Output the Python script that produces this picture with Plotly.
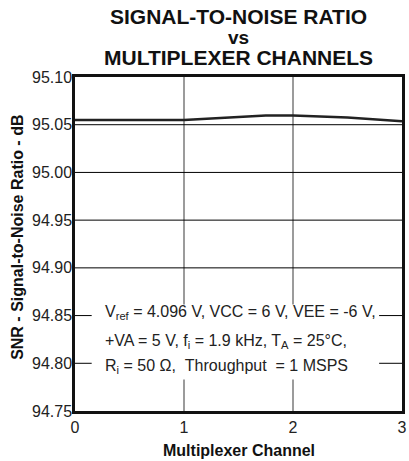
import plotly.graph_objects as go

channel = [0, 1, 1.75, 2, 2.5, 3]
snr_db = [95.055, 95.055, 95.0597, 95.0597, 95.0575, 95.0535]

x_ticks = [0, 1, 2, 3]
y_ticks = [94.75, 94.80, 94.85, 94.90, 94.95, 95.00, 95.05, 95.10]
y_tick_text = ["94.75", "94.80", "94.85", "94.90", "94.95", "95.00", "95.05", "95.10"]

title_lines = ["SIGNAL-TO-NOISE RATIO", "vs", "MULTIPLEXER CHANNELS"]
title_y = [1.181, 1.117, 1.0584]

SUB = "<sub style='font-size:85%'>"
cond_lines = [
    "V" + SUB + "ref</sub> = 4.096 V, VCC = 6 V, VEE = -6 V,",
    "+VA = 5 V, f" + SUB + "i</sub> = 1.9 kHz, T" + SUB + "A</sub> = 25°C,",
    "R" + SUB + "i</sub> = 50 Ω,  Throughput  = 1 MSPS",
]
cond_y = [94.853, 94.8227, 94.7965]

x_title = "Multiplexer Channel"
y_title = "SNR - Signal-to-Noise Ratio - dB"

FONT = "Liberation Sans, Arial, sans-serif"

fig = go.Figure()
fig.add_trace(go.Scatter(x=channel, y=snr_db, mode="lines",
                         line=dict(color="#222222", width=2.5), showlegend=False))

# grid lines
for xv in [1, 2]:
    fig.add_shape(type="line", x0=xv, x1=xv, y0=94.75, y1=95.10, xref="x", yref="y",
                  line=dict(color="#7a7a7a", width=1.5), layer="below")
for yv in [94.80, 94.85, 94.90, 94.95, 95.00, 95.05]:
    fig.add_shape(type="line", x0=0, x1=3, y0=yv, y1=yv, xref="x", yref="y",
                  line=dict(color="#000000", width=1), layer="below")

# white box behind conditions text
fig.add_shape(type="rect", x0=0.153, x1=2.79, y0=94.783, y1=94.8615, xref="x", yref="y",
              line=dict(width=0), fillcolor="white", layer="above")

for t, yv in zip(cond_lines, cond_y):
    fig.add_annotation(x=0.261, y=yv, xref="x", yref="y", text=t, showarrow=False,
                       xanchor="left", yanchor="middle",
                       font=dict(family=FONT, size=16, color="#222222"))

for t, yv in zip(title_lines, title_y):
    fig.add_annotation(x=0.5, y=yv, xref="paper", yref="paper", text="<b>" + t + "</b>",
                       showarrow=False, xanchor="center", yanchor="middle",
                       font=dict(family=FONT, size=21 if t != "vs" else 19, color="#111111"))

fig.add_annotation(x=0.5, y=-0.1168, xref="paper", yref="paper", text="<b>" + x_title + "</b>",
                   showarrow=False, xanchor="center", yanchor="middle",
                   font=dict(family=FONT, size=16, color="#111111"))
fig.add_annotation(x=-0.1747, y=0.521, xref="paper", yref="paper", text="<b>" + y_title + "</b>",
                   showarrow=False, xanchor="center", yanchor="middle", textangle=-90,
                   font=dict(family=FONT, size=16, color="#111111"))

fig.update_layout(
    width=409, height=461,
    margin=dict(l=75, r=2, t=77, b=50),
    plot_bgcolor="white", paper_bgcolor="white",
    font=dict(family=FONT, color="#222222"),
    xaxis=dict(range=[0, 3], tickvals=x_ticks, ticktext=[str(v) for v in x_ticks],
               showgrid=False, zeroline=False, showline=True, linecolor="#111111",
               linewidth=2.5, mirror=True, ticks="", tickfont=dict(size=16)),
    yaxis=dict(range=[94.75, 95.10], tickvals=y_ticks, ticktext=y_tick_text,
               showgrid=False, zeroline=False, showline=True, linecolor="#111111",
               linewidth=2.5, mirror=True, ticks="", tickfont=dict(size=16),
               ticklabelstandoff=-3),
)

fig.write_html("out.html", config={"displayModeBar": False},
               post_script="document.body.style.margin='0';")
